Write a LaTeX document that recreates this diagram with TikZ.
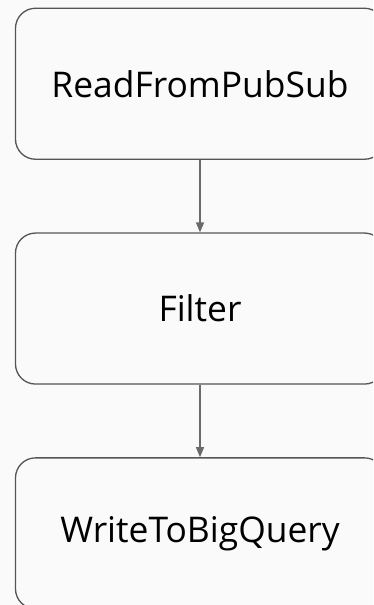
\documentclass[tikz,border=0pt]{standalone}
\usepackage{fontspec}
\setmainfont{Open Sans}
\usetikzlibrary{shapes,arrows.meta,positioning}
\definecolor{bgcol}{HTML}{FAFAFA}
\definecolor{boxline}{HTML}{555555}
\definecolor{arrowcol}{HTML}{6A6A6A}
\tikzstyle{arrow} = [line width=1.2pt,arrowcol,-{Triangle[length=10pt,width=8pt]}]

\begin{document}
\begin{tikzpicture}[x=1pt,y=1pt, every node/.style={draw=boxline, rectangle, rounded corners=20pt, line width=1.3pt, minimum width=369pt, minimum height=151pt, font=\fontsize{35.4}{40}\selectfont}]
        % 背景
        \fill[bgcol] (0,0) rectangle (373,-605);
        \useasboundingbox (0,0) rectangle (373,-605);
        \clip (0,0) rectangle (373,-605);
        % 第一层
        \node (read) at (200,-83.75) {ReadFromPubSub};
        % 第二层
        \node (filter) [below=72.5pt of read] {Filter};
        % 第三层
        \node (write) [below=72.5pt of filter] {WriteToBigQuery};

        % 连线
        \draw[arrow] (read) -- (filter);
        \draw[arrow] (filter) -- (write);
    \end{tikzpicture}
\end{document}
